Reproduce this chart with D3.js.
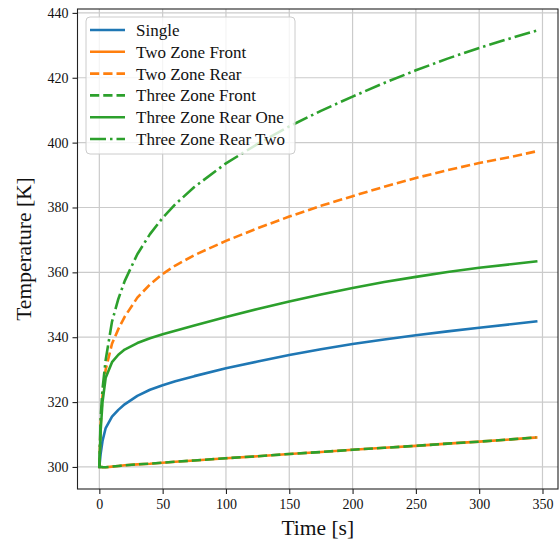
<!DOCTYPE html>
<html>
<head>
<meta charset="utf-8">
<script src="https://cdn.jsdelivr.net/npm/d3@7"></script>
<style>
  html, body { margin: 0; padding: 0; background: #fff; }
  svg { display: block; }
</style>
</head>
<body>
<svg id="chart" width="560" height="542"></svg>
<script>
// ---- Data ----
const times = [0, 1, 2.5, 5, 10, 15, 20, 30, 40, 50, 60, 75, 100, 125, 150, 175, 200, 225, 250, 275, 300, 325, 345];

const single         = [300, 304, 308, 312, 315.5, 317.6, 319.3, 321.9, 323.8, 325.2, 326.4, 328.0, 330.4, 332.5, 334.5, 336.3, 337.9, 339.3, 340.6, 341.8, 342.9, 344, 344.9];
const twoZoneFront   = [300, 300, 299.95, 299.9, 300.1, 300.3, 300.5, 300.8, 301.0, 301.3, 301.6, 302.0, 302.7, 303.3, 304.0, 304.6, 305.3, 305.9, 306.5, 307.2, 307.8, 308.5, 309.1];
const twoZoneRear    = [300, 313, 322, 330, 338, 342.5, 346.3, 352.2, 356.3, 359.5, 362.1, 365.3, 369.7, 373.6, 377.2, 380.5, 383.5, 386.4, 389.1, 391.5, 393.7, 395.6, 397.3];
const threeZoneFront = [300, 300, 299.95, 299.9, 300.1, 300.3, 300.5, 300.8, 301.0, 301.3, 301.6, 302.0, 302.7, 303.3, 304.0, 304.6, 305.3, 305.9, 306.5, 307.2, 307.8, 308.5, 309.1];
const threeZoneRear1 = [300, 311, 320, 327.5, 332.3, 334.6, 336.2, 338.2, 339.7, 340.9, 342.0, 343.6, 346.2, 348.7, 351.0, 353.2, 355.2, 357.0, 358.6, 360.1, 361.4, 362.5, 363.4];
const threeZoneRear2 = [300, 315, 324, 333, 344.8, 351.8, 357.3, 365.6, 371.8, 376.8, 381.0, 386.3, 393.6, 399.6, 405.0, 409.8, 414.2, 418.4, 422.3, 425.9, 429.2, 432.2, 434.5];

const seriesNames = ["Single", "Two Zone Front", "Two Zone Rear", "Three Zone Front", "Three Zone Rear One", "Three Zone Rear Two"];
const seriesValues = [single, twoZoneFront, twoZoneRear, threeZoneFront, threeZoneRear1, threeZoneRear2];

const xTicks = [0, 50, 100, 150, 200, 250, 300, 350];
const yTicks = [300, 320, 340, 360, 380, 400, 420, 440];
const xLabel = "Time [s]";
const yLabel = "Temperature [K]";

// ---- Styles ----
const FONT = '"Liberation Serif", "DejaVu Serif", "Noto Serif", serif';
const colors = ["#1f77b4", "#ff7f0e", "#ff7f0e", "#2ca02c", "#2ca02c", "#2ca02c"];
const dashes = [null, null, "9.25,4", "9.25,4", null, "16,4,2.5,4"];
const LW = 2.6;

// ---- Layout ----
const pLeft = 77.5, pRight = 558, pTop = 9, pBottom = 489;

const svg = d3.select("#chart").style("font-family", FONT);

const x = d3.scaleLinear().domain([-17.25, 362.25]).range([pLeft, pRight]);
const y = d3.scaleLinear().domain([293.2, 441.2]).range([pBottom, pTop]);

// grid
const grid = svg.append("g");
grid.selectAll("line.gx").data(xTicks).join("line")
  .attr("class", "gx")
  .attr("x1", d => x(d)).attr("x2", d => x(d))
  .attr("y1", pTop).attr("y2", pBottom)
  .attr("stroke", "#cbcbcb").attr("stroke-width", 1.2);
grid.selectAll("line.gy").data(yTicks).join("line")
  .attr("class", "gy")
  .attr("y1", d => y(d)).attr("y2", d => y(d))
  .attr("x1", pLeft).attr("x2", pRight)
  .attr("stroke", "#cbcbcb").attr("stroke-width", 1.2);

// lines
const line = d3.line().x(d => x(d[0])).y(d => y(d[1]));
seriesValues.forEach((vals, i) => {
  const pts = times.map((t, k) => [t, vals[k]]);
  svg.append("path")
    .datum(pts)
    .attr("d", line)
    .attr("fill", "none")
    .attr("stroke", colors[i])
    .attr("stroke-width", LW)
    .attr("stroke-dasharray", dashes[i])
    .attr("stroke-linejoin", "round")
    .attr("stroke-linecap", dashes[i] ? "butt" : "square");
});

// axes
const xAxis = d3.axisBottom(x).tickValues(xTicks).tickSize(5).tickPadding(4).tickFormat(d3.format("d"));
const yAxis = d3.axisLeft(y).tickValues(yTicks).tickSize(5).tickPadding(4).tickFormat(d3.format("d"));

const gx = svg.append("g").attr("transform", `translate(0,${pBottom})`).call(xAxis);
const gy = svg.append("g").attr("transform", `translate(${pLeft},0)`).call(yAxis);
[gx, gy].forEach(g => {
  g.attr("font-family", null).attr("font-size", null);
  g.select(".domain").remove();
  g.selectAll(".tick line").attr("stroke", "#222").attr("stroke-width", 1.1);
  g.selectAll(".tick text").style("font-family", FONT).style("font-size", "14px").attr("fill", "#111");
});
gx.selectAll(".tick text").attr("dy", "0.75em");

// spines
svg.append("rect")
  .attr("x", pLeft).attr("y", pTop)
  .attr("width", pRight - pLeft).attr("height", pBottom - pTop)
  .attr("fill", "none").attr("stroke", "#222").attr("stroke-width", 1.1);

// axis labels
svg.append("text")
  .attr("x", (pLeft + pRight) / 2).attr("y", 535)
  .attr("text-anchor", "middle")
  .style("font-family", FONT).style("font-size", "21.5px").attr("fill", "#111")
  .text(xLabel);
svg.append("text")
  .attr("transform", `translate(31,${(pTop + pBottom) / 2}) rotate(-90)`)
  .attr("text-anchor", "middle")
  .style("font-family", FONT).style("font-size", "21.5px").attr("fill", "#111")
  .text(yLabel);

// legend
const lg = svg.append("g");
lg.append("rect")
  .attr("x", 86).attr("y", 17).attr("width", 209).attr("height", 137)
  .attr("rx", 4).attr("ry", 4)
  .attr("fill", "#fff").attr("fill-opacity", 0.8)
  .attr("stroke", "#cccccc").attr("stroke-width", 1);
seriesNames.forEach((name, i) => {
  const cy = 30 + i * 21.8;
  lg.append("line")
    .attr("x1", 90).attr("x2", 125).attr("y1", cy).attr("y2", cy)
    .attr("stroke", colors[i]).attr("stroke-width", LW)
    .attr("stroke-dasharray", dashes[i]);
  lg.append("text")
    .attr("x", 136).attr("y", cy + 6)
    .style("font-family", FONT).style("font-size", "17px").attr("fill", "#111")
    .text(name);
});
</script>
</body>
</html>
